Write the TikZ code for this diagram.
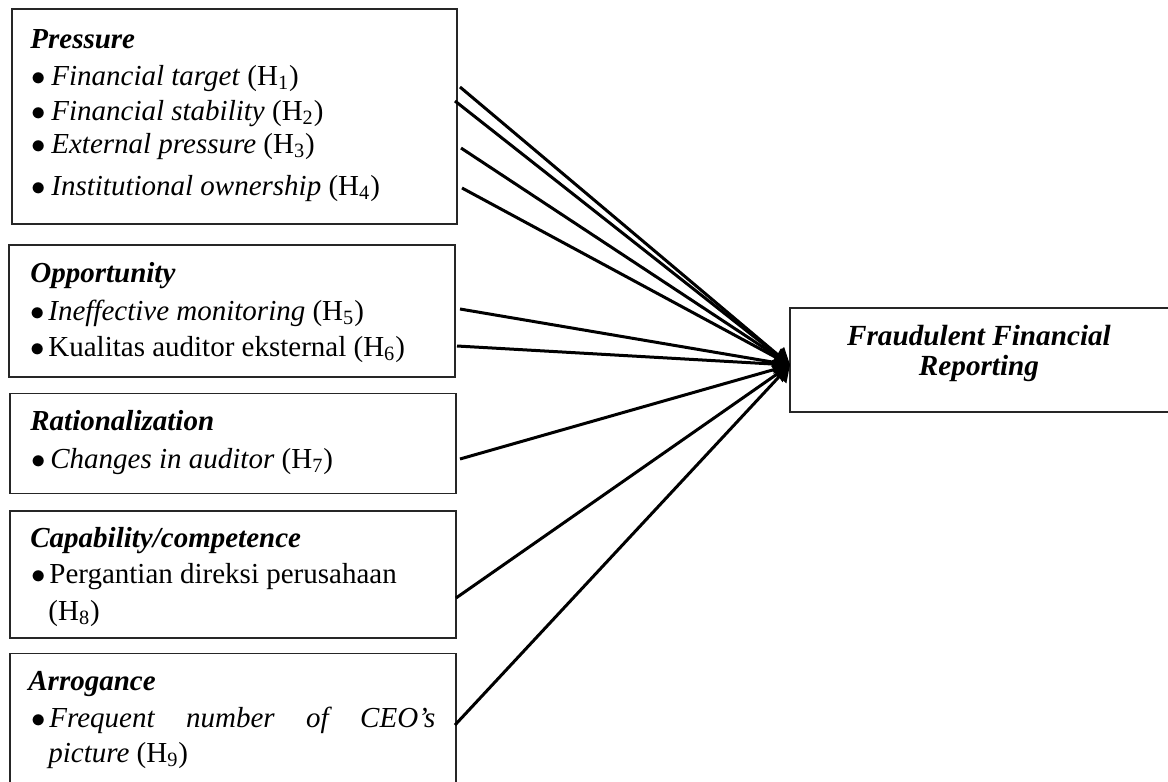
\documentclass[tikz,border=0pt]{standalone}
\usepackage{fontspec}
\setmainfont{Liberation Serif}
\usetikzlibrary{arrows.meta}
\newcommand\Hsub[1]{(H\textsubscript{#1})}
\newcommand\bulw[1]{\makebox[#1][l]{$\bullet$}}
\begin{document}
\begin{tikzpicture}[x=0.5pt,y=-0.5pt,
  box/.style={draw=black!85,line width=0.75pt,inner sep=0,outer sep=0},
  txt/.style={anchor=base west,inner sep=0,font=\fontsize{14.5}{16}\selectfont},
  ctxt/.style={anchor=base,inner sep=0,font=\fontsize{14.6}{16}\selectfont\bfseries\itshape},
  arr/.style={line width=1.5pt,-{Triangle[length=8pt,width=9.5pt]}}]
\useasboundingbox (0,0) rectangle (1168,782);
% boxes
\node[box,minimum width=222.5pt,minimum height=107.5pt] (pressure) at (234.5,116.5) {};
\node[box,minimum width=223pt,minimum height=66pt] (opp) at (232,311) {};
\node[box,minimum width=223pt,minimum height=50pt] (rat) at (233,443.5) {};
\node[box,minimum width=223pt,minimum height=63.5pt] (cap) at (233,574.5) {};
\node[box,minimum width=223pt,minimum height=73pt] (arr) at (233,726.5) {};
\node[box,minimum width=195pt,minimum height=52pt] (fr) at (985,360) {};
% texts
\node[txt] (pt) at (30,48) {\textbf{\textit{Pressure}}};
\node[txt] (p1) at (31,85) {\bulw{10pt}\textit{Financial target} \Hsub{1}};
\node[txt] (p2) at (31,120) {\bulw{10pt}\textit{Financial stability} \Hsub{2}};
\node[txt] (p3) at (31,153) {\bulw{10pt}\textit{External pressure} \Hsub{3}};
\node[txt] (p4) at (31,195) {\bulw{10pt}\textit{Institutional ownership} \Hsub{4}};
\node[txt] (ot) at (30,282) {\textbf{\textit{Opportunity}}};
\node[txt] (o1) at (30,320) {\bulw{9pt}\textit{Ineffective monitoring} \Hsub{5}};
\node[txt] (o2) at (30,356) {\bulw{9pt}Kualitas auditor eksternal \Hsub{6}};
\node[txt] (rt) at (30,430) {\textbf{\textit{Rationalization}}};
\node[txt] (r1) at (31,468) {\bulw{9.5pt}\textit{Changes in auditor} \Hsub{7}};
\node[txt] (ct) at (30,547) {\textbf{\textit{Capability/competence}}};
\node[txt] (c1) at (31,583) {\bulw{9pt}Pergantian direksi perusahaan};
\node[txt] (c2) at (48,620) {\Hsub{8}};
\node[txt] (at) at (28,690) {\textbf{\textit{Arrogance}}};
\node[txt] (a1) at (31,727) {\bulw{9pt}\makebox[193pt][s]{\textit{Frequent number of CEO’s}}};
\node[txt] (a2) at (48,762) {\textit{picture} \Hsub{9}};
\node[ctxt] (f1) at (979,345) {Fraudulent Financial};
\node[ctxt] (f2) at (979,375) {Reporting};
% connector ends
\coordinate (tip) at (790,365);
\coordinate (s1) at (460,87);
\coordinate (s2) at (455,101);
\coordinate (s3) at (461,148);
\coordinate (s4) at (462,188);
\coordinate (s5) at (460,309);
\coordinate (s6) at (457,346);
\coordinate (s7) at (460,459);
\coordinate (s8) at (456,598);
\coordinate (s9) at (455,725);
\foreach \s in {s1,s2,s3,s4,s5,s6,s7,s8,s9}
  \draw[arr] (\s) -- (tip);
\end{tikzpicture}
\end{document}
